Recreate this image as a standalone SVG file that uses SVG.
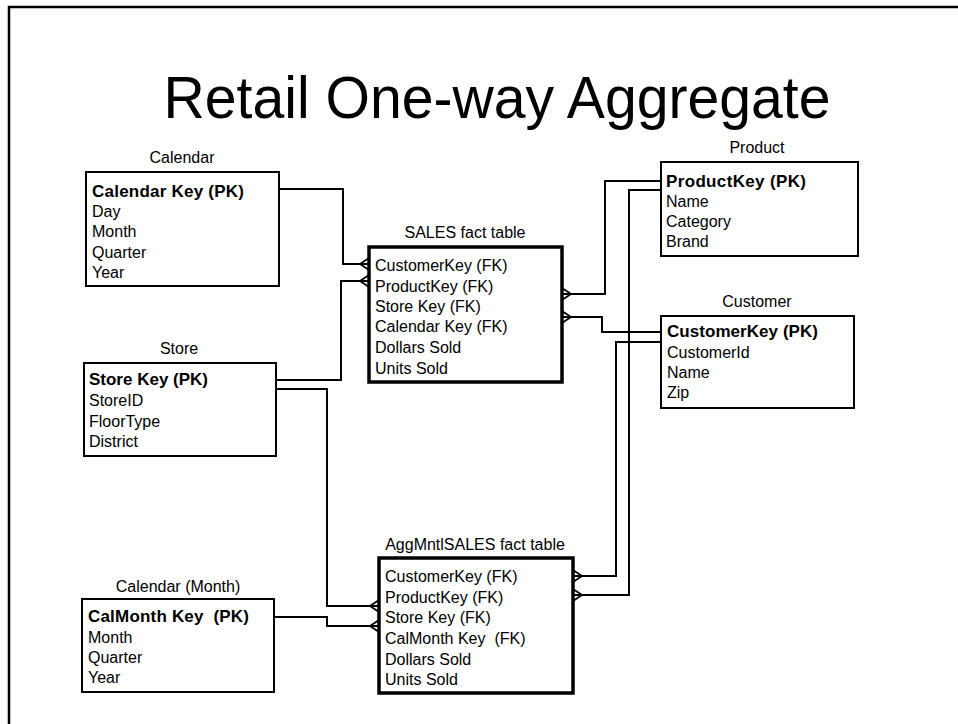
<svg xmlns="http://www.w3.org/2000/svg" width="958" height="724" viewBox="0 0 958 724">
  <style>
    text { font-family: "Liberation Sans", Arial, sans-serif; fill: #000; }
    .title { font-size: 59px; text-anchor: middle; }
    .label { font-size: 16px; text-anchor: middle; }
    .row { font-size: 16px; white-space: pre; }
    .pk { font-size: 17px; font-weight: bold; white-space: pre; }
    .box { fill: #fff; stroke: #000; stroke-width: 2; }
    .fact { fill: #fff; stroke: #000; stroke-width: 3.5; }
    .conn { fill: none; stroke: #000; stroke-width: 2; marker-end: url(#crow); }
  </style>
  <defs>
    <!-- crow's foot "many" end: toes touch the entity, apex 9px back along the line -->
    <marker id="crow" markerUnits="userSpaceOnUse" viewBox="-12 -8 14 16" refX="0" refY="0" markerWidth="14" markerHeight="16" orient="auto" overflow="visible">
      <path d="M0,-6 L-9,0 L0,6" fill="none" stroke="#000" stroke-width="1.8"/>
    </marker>
  </defs>

  <!-- slide frame -->
  <path d="M9,724 V7 H958" fill="none" stroke="#000" stroke-width="2.5"/>

  <text class="title" x="497" y="118" textLength="667" lengthAdjust="spacingAndGlyphs">Retail One-way Aggregate</text>

  <!-- relationships -->
  <g id="connectors">
    <path class="conn" d="M279,189 H343 V264 H369"/>
    <path class="conn" d="M276,380 H341 V281 H369"/>
    <path class="conn" d="M661,181 H605 V294 H562"/>
    <path class="conn" d="M661,332 H602 V317 H562"/>
    <path class="conn" d="M276,389 H327 V606 H379"/>
    <path class="conn" d="M274,617 H327 V626 H379"/>
    <path class="conn" d="M661,342 H616 V576 H573"/>
    <path class="conn" d="M661,190 H629 V595 H573"/>
  </g>

  <g id="calendar">
    <text class="label" x="182" y="163">Calendar</text>
    <rect class="box" x="86" y="172" width="193" height="114"/>
    <text class="pk" x="92" y="197" textLength="152" lengthAdjust="spacing">Calendar Key (PK)</text>
    <text class="row" x="92" y="217">Day</text>
    <text class="row" x="92" y="237">Month</text>
    <text class="row" x="92" y="258">Quarter</text>
    <text class="row" x="92" y="278">Year</text>
  </g>

  <g id="product">
    <text class="label" x="757" y="153">Product</text>
    <rect class="box" x="661" y="162" width="197" height="94"/>
    <text class="pk" x="666" y="187" textLength="140" lengthAdjust="spacing">ProductKey (PK)</text>
    <text class="row" x="666" y="207">Name</text>
    <text class="row" x="666" y="227">Category</text>
    <text class="row" x="666" y="247">Brand</text>
  </g>

  <g id="sales">
    <text class="label" x="465" y="238">SALES fact table</text>
    <rect class="fact" x="369" y="247" width="193" height="135"/>
    <text class="row" x="375" y="271">CustomerKey (FK)</text>
    <text class="row" x="375" y="292">ProductKey (FK)</text>
    <text class="row" x="375" y="312">Store Key (FK)</text>
    <text class="row" x="375" y="332">Calendar Key (FK)</text>
    <text class="row" x="375" y="353">Dollars Sold</text>
    <text class="row" x="375" y="374">Units Sold</text>
  </g>

  <g id="customer">
    <text class="label" x="757" y="307">Customer</text>
    <rect class="box" x="661" y="316" width="193" height="92"/>
    <text class="pk" x="667" y="337" textLength="151" lengthAdjust="spacing">CustomerKey (PK)</text>
    <text class="row" x="667" y="358">CustomerId</text>
    <text class="row" x="667" y="378">Name</text>
    <text class="row" x="667" y="398">Zip</text>
  </g>

  <g id="store">
    <text class="label" x="179" y="354">Store</text>
    <rect class="box" x="84" y="363" width="192" height="93"/>
    <text class="pk" x="89" y="385" textLength="119" lengthAdjust="spacing">Store Key (PK)</text>
    <text class="row" x="89" y="406">StoreID</text>
    <text class="row" x="89" y="427">FloorType</text>
    <text class="row" x="89" y="447">District</text>
  </g>

  <g id="agg-sales">
    <text class="label" x="475" y="550">AggMntlSALES fact table</text>
    <rect class="fact" x="379" y="558" width="194" height="135"/>
    <text class="row" x="385" y="582">CustomerKey (FK)</text>
    <text class="row" x="385" y="603">ProductKey (FK)</text>
    <text class="row" x="385" y="623">Store Key (FK)</text>
    <text class="row" x="385" y="644">CalMonth Key  (FK)</text>
    <text class="row" x="385" y="665">Dollars Sold</text>
    <text class="row" x="385" y="685">Units Sold</text>
  </g>

  <g id="calendar-month">
    <text class="label" x="178" y="592">Calendar (Month)</text>
    <rect class="box" x="82" y="599" width="192" height="93"/>
    <text class="pk" x="88" y="622" textLength="161" lengthAdjust="spacing">CalMonth Key  (PK)</text>
    <text class="row" x="88" y="643">Month</text>
    <text class="row" x="88" y="663">Quarter</text>
    <text class="row" x="88" y="683">Year</text>
  </g>
</svg>
